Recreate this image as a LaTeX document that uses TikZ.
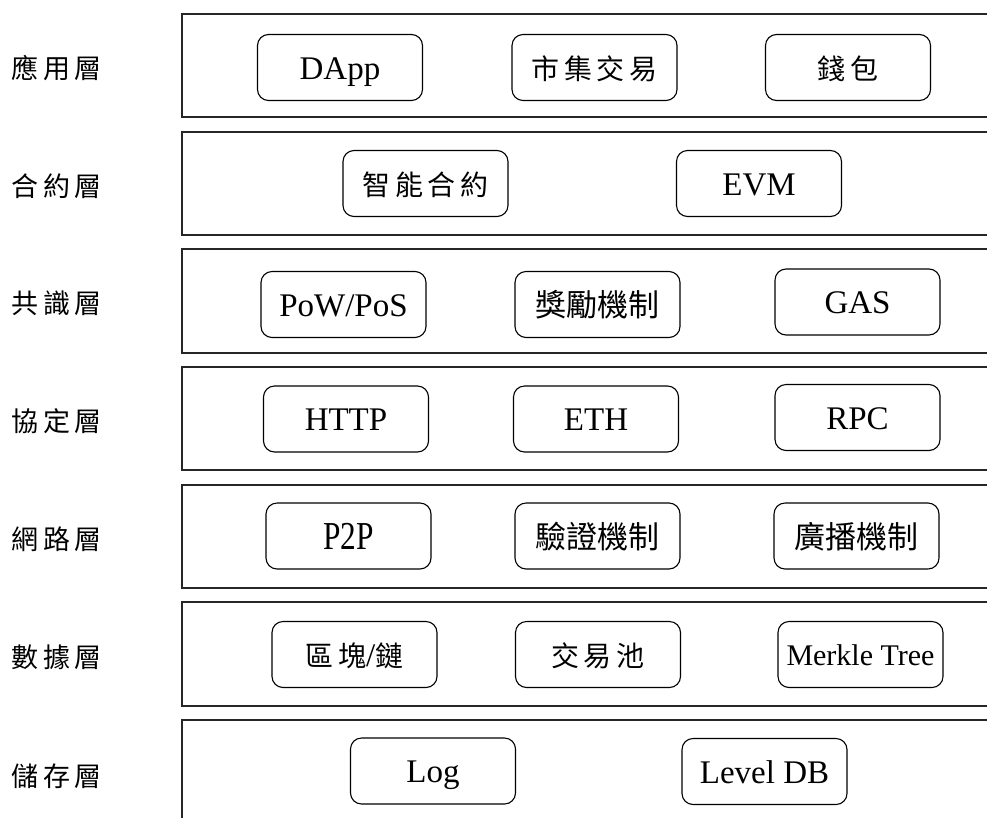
\documentclass[tikz,border=0pt]{standalone}
\usepackage{fontspec}
\setmainfont{Liberation Serif}
\newfontfamily\cjk{Noto Sans CJK TC}
% spacing between widely set CJK characters
\newcommand\gp{\kern4.5pt}
\begin{document}
\begin{tikzpicture}[x=1pt,y=-1pt,
  layerbox/.style={draw=black!85, line width=1.5pt},
  item/.style={draw, line width=1.1pt, rounded corners=11pt,
    minimum width=165pt, minimum height=66pt, inner sep=0pt,
    text height=23pt, text depth=0pt,
    font=\fontsize{33}{36}\selectfont},
  hz/.style={font=\cjk\fontsize{28}{32}\selectfont},
  hzw/.style={font=\cjk\fontsize{31}{34}\selectfont, text height=24pt},
  layername/.style={font=\cjk\fontsize{27}{30}\selectfont, inner sep=0pt}]
\clip (0,0) rectangle (987,817);

% layer frames, open to the right
\draw[layerbox] (182,14)  rectangle (1010,117);
\draw[layerbox] (182,132) rectangle (1010,235);
\draw[layerbox] (182,249) rectangle (1010,353);
\draw[layerbox] (182,367) rectangle (1010,470);
\draw[layerbox] (182,485) rectangle (1010,588);
\draw[layerbox] (182,602) rectangle (1010,706);
\draw[layerbox] (182,720) rectangle (1010,840);

% layer names
\node[layername] (n1) at (57,68)  {應\gp 用\gp 層};
\node[layername] (n2) at (57,186) {合\gp 約\gp 層};
\node[layername] (n3) at (57,303) {共\gp 識\gp 層};
\node[layername] (n4) at (57,421) {協\gp 定\gp 層};
\node[layername] (n5) at (57,539) {網\gp 路\gp 層};
\node[layername] (n6) at (57,657) {數\gp 據\gp 層};
\node[layername] (n7) at (57,776) {儲\gp 存\gp 層};

% application layer
\node[item] (dapp) at (340,67.5) {DApp};
\node[item,hz] (market) at (594.5,67.5) {市\gp 集\gp 交\gp 易};
\node[item,hz] (wallet) at (848,67.5) {錢\gp 包};

% contract layer
\node[item,hz] (contract) at (425.5,183.5) {智\gp 能\gp 合\gp 約};
\node[item] (evm) at (759,183.5) {EVM};

% consensus layer
\node[item] (pow) at (343.5,304.5) {PoW/PoS};
\node[item,hzw] (reward) at (597.5,304.5) {獎勵機制};
\node[item] (gas) at (857.5,302) {GAS};

% protocol layer
\node[item] (http) at (346,419) {HTTP};
\node[item] (eth) at (596,419) {ETH};
\node[item] (rpc) at (857.5,417.5) {RPC};

% network layer
\node[item, text height=27pt] (p2p) at (348.5,536) {\scalebox{0.95}[1.2]{P2P}};
\node[item,hzw] (verify) at (597.5,536) {驗證機制};
\node[item,hzw] (bcast) at (856.5,536) {廣播機制};

% data layer
\node[item] (chain) at (354.5,654.5) {{\cjk\fontsize{28}{32}\selectfont 區\gp 塊}/{\cjk\fontsize{28}{32}\selectfont 鏈}};
\node[item,hz] (pool) at (598,654.5) {交\gp 易\gp 池};
\node[item,font=\fontsize{30}{33}\selectfont, text height=21pt] (merkle) at (860.5,654.5) {Merkle Tree};

% storage layer
\node[item] (log) at (433,771) {Log};
\node[item] (leveldb) at (764.5,771.5) {Level DB};
\end{tikzpicture}
\end{document}
